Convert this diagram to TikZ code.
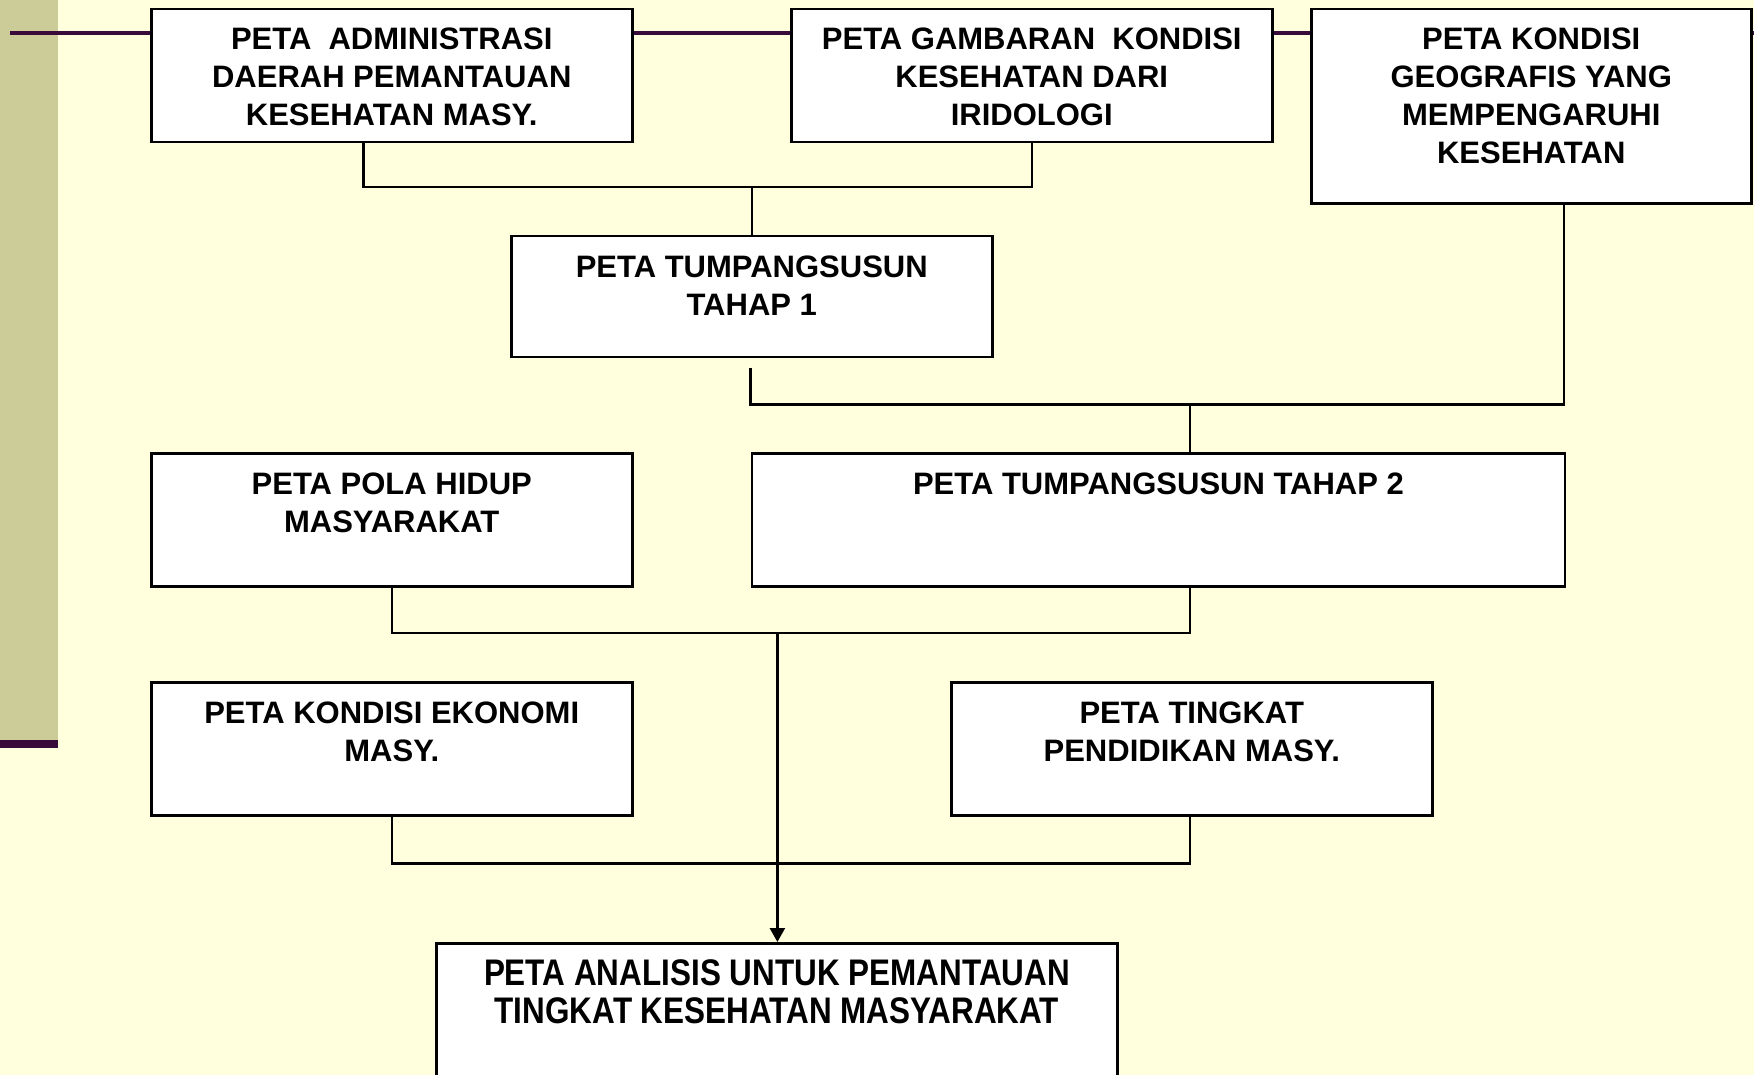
\documentclass[tikz,border=0pt]{standalone}
\usepackage{fontspec}
\setmainfont{Liberation Sans}
\newfontfamily\condfont[FakeStretch=0.85]{Liberation Sans}
\usetikzlibrary{arrows.meta}
\definecolor{bgyellow}{HTML}{FFFFDD}
\definecolor{sidebar}{HTML}{CCCC99}
\definecolor{darkpurple}{HTML}{3A0A3A}
\begin{document}
\begin{tikzpicture}[x=1pt,y=-1pt,
  box/.style={draw=black, line width=2.5pt, fill=white, anchor=north west, inner sep=0pt},
  txt/.style={anchor=north, inner sep=0pt, align=center, text=black,
    font=\fontsize{31pt}{38pt}\selectfont\bfseries},
  bigtxt/.style={anchor=north, inner sep=0pt, align=center, text=black,
    font=\condfont\fontsize{37pt}{38pt}\selectfont\bfseries},
  conn/.style={line width=2.5pt, draw=black},
  purpleline/.style={line width=4pt, draw=darkpurple}
]
\useasboundingbox (0,0) rectangle (1754,1075);
\clip (0,0) rectangle (1754,1075);
% background
\fill[bgyellow] (0,0) rectangle (1754,1075);
\fill[sidebar] (0,0) rectangle (58,740);
\fill[darkpurple] (0,740) rectangle (58,748);
\coordinate (ls) at (10,33.5);
\coordinate (le) at (1754,33.5);
\draw[purpleline] (ls) -- (le);

% boxes
\node[box, minimum width=481pt, minimum height=133pt] (b1) at (150,8) {};
\node[box, minimum width=481pt, minimum height=133pt] (b2) at (790,8) {};
\node[box, minimum width=440pt, minimum height=194.5pt] (b3) at (1310,8) {};
\node[box, minimum width=481pt, minimum height=121pt] (b4) at (510,235) {};
\node[box, minimum width=481pt, minimum height=133pt] (b5) at (150,452) {};
\node[box, minimum width=813.2pt, minimum height=133pt] (b6) at (750.6,452) {};
\node[box, minimum width=481pt, minimum height=133pt] (b7) at (150,681) {};
\node[box, minimum width=481pt, minimum height=133pt] (b8) at (950,681) {};
\node[box, minimum width=681.4pt, minimum height=170pt] (b9) at (435,942) {};

% texts
\node[txt] (t1) at ([yshift=-19.5pt]b1.north) {PETA\ \ ADMINISTRASI\\DAERAH PEMANTAUAN\\KESEHATAN MASY.};
\node[txt] (t2) at ([yshift=-19.5pt]b2.north) {PETA GAMBARAN\ \ KONDISI\\KESEHATAN DARI\\IRIDOLOGI};
\node[txt] (t3) at ([yshift=-19.5pt]b3.north) {PETA KONDISI\\GEOGRAFIS YANG\\MEMPENGARUHI\\KESEHATAN};
\node[txt] (t4) at ([yshift=-20.3pt]b4.north) {PETA TUMPANGSUSUN\\TAHAP 1};
\node[txt] (t5) at ([yshift=-20.3pt]b5.north) {PETA POLA HIDUP\\MASYARAKAT};
\node[txt] (t6) at ([yshift=-20.3pt]b6.north) {PETA TUMPANGSUSUN TAHAP 2};
\node[txt] (t7) at ([yshift=-20.5pt]b7.north) {PETA KONDISI EKONOMI\\MASY.};
\node[txt] (t8) at ([yshift=-20.5pt]b8.north) {PETA TINGKAT\\PENDIDIKAN MASY.};
\node[bigtxt] (t9) at ([yshift=-17.3pt]b9.north) {PETA ANALISIS UNTUK PEMANTAUAN\\TINGKAT KESEHATAN MASYARAKAT};

% connectors level 1
\coordinate (j1) at (363.5,186.8);
\draw[conn] (b1.south -| j1) -- (j1) -| (b2.south);
\draw[conn] (b4.north) -- (b4.north |- j1);

% connectors level 2
\coordinate (s4) at (750.6,367.5);
\coordinate (j3) at (1563.8,404.3);
\coordinate (j4) at (1190.2,404.3);
\draw[conn] (s4) |- (j3) -- (j3 |- b3.south);
\draw[conn] (j4) -- (j4 |- b6.north);

% connectors level 3
\coordinate (j6) at (1190.2,633);
\coordinate (j7) at (777.4,633);
\draw[conn] (b5.south) -- (b5.south |- j6) -- (j6) -- (j6 |- b6.south);
\draw[conn, -{Triangle[width=15pt,length=14pt]}] (j7) -- (j7 |- b9.north);

% connectors level 4
\coordinate (j8) at (1190.2,863.6);
\draw[conn] (b7.south) -- (b7.south |- j8) -- (j8) -- (j8 |- b8.south);
\end{tikzpicture}
\end{document}
